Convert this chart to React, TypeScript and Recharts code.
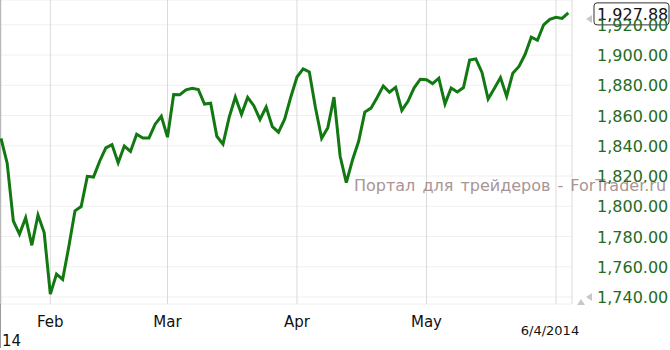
import React from 'react';
import { LineChart, Line, XAxis, YAxis, CartesianGrid, ReferenceLine } from 'recharts';

// daily closes, 22 Jan 2014 .. 4 Jun 2014
const closes = [
  1844.9, 1828.5, 1790.3, 1781.6, 1792.5, 1774.2, 1794.2, 1782.6,
  1741.9, 1755.2, 1751.6, 1773.4, 1797.0, 1799.8, 1819.8, 1819.3, 1829.8, 1838.6,
  1840.8, 1828.8, 1839.8, 1836.3, 1847.6, 1845.1, 1845.2, 1854.3, 1859.5,
  1845.7, 1873.9, 1873.8, 1877.0, 1878.0, 1877.2, 1867.6, 1868.2, 1846.3, 1841.1,
  1858.8, 1872.3, 1860.8, 1872.0, 1866.5, 1857.4, 1865.6, 1852.6, 1849.0, 1857.6, 1872.3,
  1885.5, 1890.9, 1888.8, 1865.1, 1845.0, 1852.0, 1872.2, 1833.1, 1815.7, 1830.6,
  1843.0, 1862.3, 1864.9, 1871.9, 1879.6, 1875.4, 1878.6, 1863.4, 1869.4, 1878.3, 1884.0,
  1883.7, 1881.1, 1884.7, 1867.7, 1878.2, 1875.6, 1878.5, 1896.7, 1897.5, 1888.5,
  1870.9, 1877.9, 1885.1, 1872.8, 1888.0, 1892.5, 1900.5, 1911.9, 1909.8, 1920.0, 1923.6,
  1925.0, 1924.2, 1927.88,
];

// index of first trading day of each month
const monthTicks = [8, 27, 48, 69, 90];
const monthLabels = ['Feb', 'Mar', 'Apr', 'May', '6/4/2014'];
const priceTicks = [1740, 1760, 1780, 1800, 1820, 1840, 1860, 1880, 1900, 1920];
const lastClose = 1927.88;
const lastLabel = '1,927.88';
const yearLabel = '14';
const watermark = 'Портал для трейдеров - ForTrader.ru';

const data = closes.map((v, i) => ({ i, v }));

const font = "'DejaVu Sans', Verdana, sans-serif";

const fmt = (v: number) =>
  v.toLocaleString('en-US', { minimumFractionDigits: 2, maximumFractionDigits: 2 });

const MonthTick = (props: any) => {
  const { x, payload, index } = props;
  const label = monthLabels[monthTicks.indexOf(payload.value)];
  if (label === '6/4/2014') {
    return (
      <text x={x - 6} y={335} textAnchor="middle" fontSize={13} fill="#111" fontFamily={font}>
        {label}
      </text>
    );
  }
  return (
    <g>
      <text x={x} y={327} textAnchor="middle" fontSize={15} fill="#111" fontFamily={font}>
        {label}
      </text>
      {index === 0 && (
        <text x={2} y={346} fontSize={15} fill="#111" fontFamily={font}>
          {yearLabel}
        </text>
      )}
    </g>
  );
};

const PriceTick = (props: any) => {
  const { y, payload } = props;
  return (
    <g>
      {payload.value === 1740 && (
        <>
          <polygon points={`586,${y} 592,${y - 4} 592,${y + 4}`} fill="#c8c8c8" />
          <polygon points={`577,305 581,299 585,305`} fill="#c8c8c8" />
        </>
      )}
      <text x={597} y={y + 6} fontSize={16} fill="#236b23" fontFamily={font}>
        {fmt(payload.value)}
      </text>
    </g>
  );
};

const LastBox = (props: any) => {
  const { viewBox } = props;
  const bx = viewBox.x + viewBox.width + 22;
  const cy = viewBox.y + 1;
  return (
    <g>
      <polygon points={`586,${cy + 5} 592,${cy + 1} 592,${cy + 9}`} fill="#c8c8c8" />
      <rect x={bx} y={cy - 11} width={75} height={22} rx={3} fill="#fff" stroke="#333" />
      <text x={bx + 3} y={cy + 6} fontSize={16} fill="#111" fontFamily={font}>
        {lastLabel}
      </text>
    </g>
  );
};

export default function App() {
  return (
    <div style={{ position: 'absolute', left: 0, top: 0, width: 670, height: 350, background: '#fff' }}>
      <div style={{ position: 'absolute', left: 0, top: 0, width: 1, height: 348, background: '#9a9a9a' }} />
      <LineChart width={670} height={350} data={data} margin={{ top: 0, right: 0, bottom: 0, left: 1 }}>
        <CartesianGrid vertical={false} stroke="#f0f0f0" />
        <CartesianGrid horizontal={false} stroke="#dadada" />
        <XAxis
          dataKey="i"
          type="number"
          domain={[0, 92.6]}
          ticks={monthTicks}
          height={46}
          axisLine={false}
          tickLine={false}
          tick={<MonthTick />}
        />
        <YAxis
          orientation="right"
          width={98}
          domain={[1735.4, 1936.4]}
          ticks={priceTicks}
          axisLine={false}
          tickLine={false}
          tick={<PriceTick />}
        />
        <text
          x={354}
          y={191}
          fill="#a89595"
          style={{ fontFamily: font, fontSize: 16, wordSpacing: 2 }}
        >
          {watermark}
        </text>
        <Line
          type="linear"
          dataKey="v"
          stroke="#127812"
          strokeWidth={3}
          dot={false}
          isAnimationActive={false}
        />
        <ReferenceLine y={lastClose} stroke="none" label={<LastBox />} />
      </LineChart>
    </div>
  );
}
